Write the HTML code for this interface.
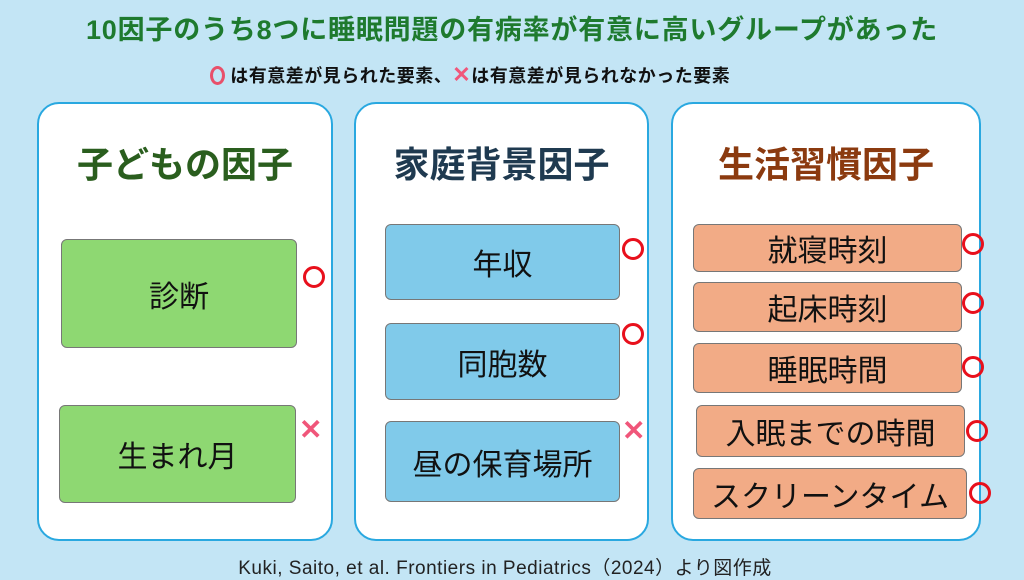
<!DOCTYPE html>
<html><head><meta charset="utf-8"><style>
*{margin:0;padding:0;box-sizing:border-box}
body{width:1024px;height:576px;background:#c3e5f5;position:relative;overflow:hidden;font-family:"Liberation Sans","Noto Sans CJK JP",sans-serif}
.a{position:absolute}
.t{left:0;width:1024px;text-align:center;top:8px;font-size:27px;font-weight:bold;color:#1e7a2e;letter-spacing:0.8px}
.lg{left:0;width:940px;text-align:center;top:62px;font-size:18px;font-weight:bold;color:#111;letter-spacing:0.5px}
.p{background:#fff;border:2px solid #29a8e0;border-radius:22px;top:102px;height:439px}
.h{font-size:36px;font-weight:bold;text-align:center;top:136px}
.b{border:1px solid #777;border-radius:6px;display:flex;align-items:center;justify-content:center;font-size:30px;color:#111}
.g{background:#8ed872}.bl{background:#80caea}.o{background:#f2ab86}
.c{width:22px;height:22px;border:3px solid #e8101c;border-radius:50%}
.x{font-size:28px;color:#f0567a;font-weight:bold;line-height:1}
.f{left:0;width:1010px;text-align:center;top:553px;font-size:19px;color:#222;letter-spacing:0.5px}
</style></head><body>
<div class="a t">10因子のうち8つに睡眠問題の有病率が有意に高いグループがあった</div>
<div class="a lg"><span style="display:inline-block;width:15px;height:19px;border:3px solid #e8506a;border-radius:50%;vertical-align:-3px"></span> は有意差が見られた要素、<span style="color:#f0567a;font-size:22px">✕</span>は有意差が見られなかった要素</div>

<div class="a p" style="left:37px;width:296px"></div>
<div class="a p" style="left:354px;width:295px"></div>
<div class="a p" style="left:671px;width:310px"></div>

<div class="a h" style="left:37px;width:296px;color:#2a5e1e">子どもの因子</div>
<div class="a h" style="left:354px;width:295px;color:#1f3a50">家庭背景因子</div>
<div class="a h" style="left:671px;width:310px;color:#8b3a0f">生活習慣因子</div>

<div class="a b g" style="left:61px;top:239px;width:236px;height:109px">診断</div>
<div class="a b g" style="left:59px;top:405px;width:237px;height:98px">生まれ月</div>
<div class="a c" style="left:303px;top:266px"></div>
<div class="a x" style="left:299px;top:416px">✕</div>

<div class="a b bl" style="left:385px;top:224px;width:235px;height:76px">年収</div>
<div class="a b bl" style="left:385px;top:323px;width:235px;height:77px">同胞数</div>
<div class="a b bl" style="left:385px;top:421px;width:235px;height:81px">昼の保育場所</div>
<div class="a c" style="left:622px;top:238px"></div>
<div class="a c" style="left:622px;top:323px"></div>
<div class="a x" style="left:622px;top:417px">✕</div>

<div class="a b o" style="left:693px;top:224px;width:269px;height:48px">就寝時刻</div>
<div class="a b o" style="left:693px;top:282px;width:269px;height:50px">起床時刻</div>
<div class="a b o" style="left:693px;top:343px;width:269px;height:50px">睡眠時間</div>
<div class="a b o" style="left:696px;top:405px;width:269px;height:52px">入眠までの時間</div>
<div class="a b o" style="left:693px;top:468px;width:274px;height:51px">スクリーンタイム</div>
<div class="a c" style="left:962px;top:233px"></div>
<div class="a c" style="left:962px;top:292px"></div>
<div class="a c" style="left:962px;top:356px"></div>
<div class="a c" style="left:966px;top:420px"></div>
<div class="a c" style="left:969px;top:482px"></div>

<div class="a f">Kuki, Saito, et al. Frontiers in Pediatrics（2024）より図作成</div>
</body></html>
